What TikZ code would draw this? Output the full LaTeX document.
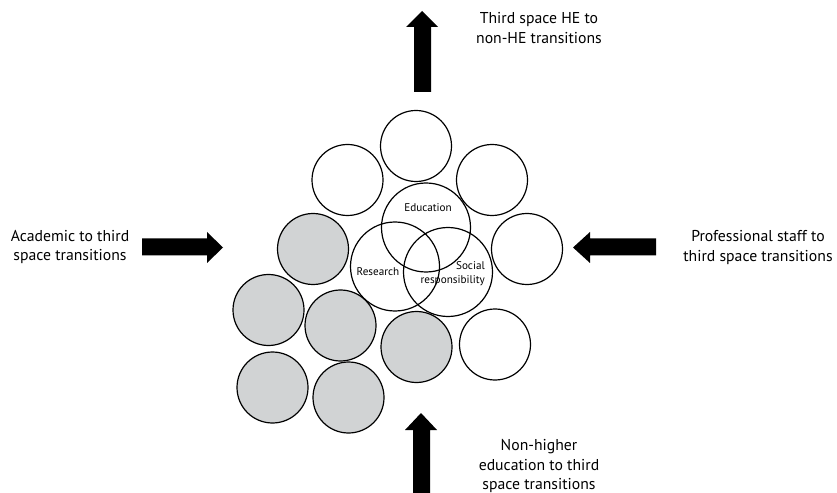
\documentclass[tikz,border=0pt]{standalone}
\usepackage{fontspec}
\setmainfont{PT Sans}
\definecolor{circgray}{HTML}{D1D3D4}
\begin{document}
\begin{tikzpicture}[x=1bp,y=-1bp,
  circ/.style={circle,draw=black,line width=1.2bp,inner sep=0pt,minimum size=71bp},
  bigcirc/.style={circ,minimum size=89bp},
  grayc/.style={circ,fill=circgray},
  lbl/.style={font=\fontsize{15.8}{20}\selectfont,align=center,inner sep=0pt},
  small/.style={font=\fontsize{11.2}{14}\selectfont,inner sep=0pt},
  bigarrow/.style={fill=black,draw=none}]
\useasboundingbox (0,0) rectangle (837,493);
% white circles
\node[circ] (top) at (416,146) {};
\node[circ] (ul) at (347.5,180) {};
\node[circ] (ur) at (492,180) {};
\node[circ] (r) at (527,249) {};
\node[circ] (lr) at (495,344.5) {};
% gray circles
\node[grayc] (g1) at (313,249) {};
\node[grayc] (g2) at (268.5,310) {};
\node[grayc] (g3) at (340.5,325.5) {};
\node[grayc] (g4) at (416.5,347) {};
\node[grayc] (g5) at (272.5,387.5) {};
\node[grayc] (g6) at (348.5,397.5) {};
% big circles
\node[bigcirc] (edu) at (426,227.5) {};
\node[bigcirc] (res) at (395,266.5) {};
\node[bigcirc] (soc) at (448,272) {};
\node[small] (edut) at (428,208) {Education};
\node[small] (rest) at (378,272) {Research};
\node[small,align=right,anchor=east] (soct) at (485,274) {Social\\responsibility};
% arrows
\path[bigarrow] (414,92) -- (414,27) -- (406,27) -- (422,11) -- (438,27) -- (431,27) -- (431,92) -- cycle;
\path[bigarrow] (413,493) -- (413,430) -- (405,430) -- (421,413) -- (437,430) -- (430,430) -- (430,493) -- cycle;
\path[bigarrow] (142,238.5) -- (207,238.5) -- (207,232) -- (223,247.5) -- (207,263) -- (207,255.5) -- (142,255.5) -- cycle;
\path[bigarrow] (656,238.5) -- (590,238.5) -- (590,232) -- (573,247.5) -- (590,263) -- (590,255.5) -- (656,255.5) -- cycle;
% labels
\node[lbl] (tl) at (539,28) {Third space HE to\\non-HE transitions};
\node[lbl] (bl) at (539,466) {Non-higher\\education to third\\space transitions};
\node[lbl] (ll) at (70,247) {Academic to third\\space transitions};
\node[lbl] (rl) at (758,247.5) {Professional staff to\\third space transitions};
\end{tikzpicture}
\end{document}
